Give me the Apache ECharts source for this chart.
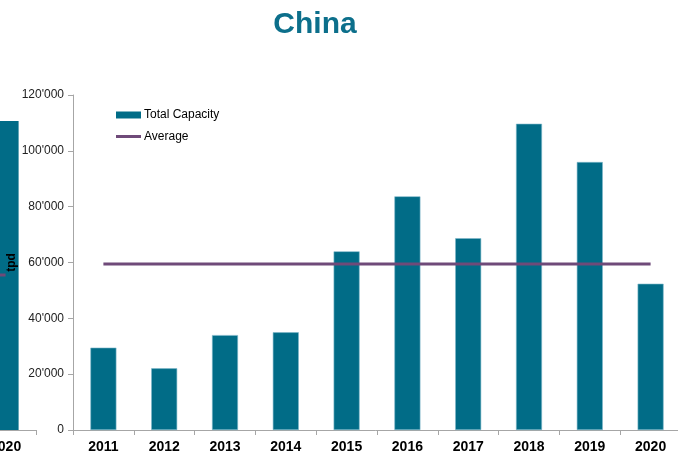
<!DOCTYPE html>
<html>
<head>
<meta charset="utf-8">
<style>html,body{margin:0;padding:0;background:#fff;}#c{width:678px;height:458px;}</style>
<script src="https://cdn.jsdelivr.net/npm/echarts@6/dist/echarts.min.js"></script>
</head>
<body>
<div id="c"></div>
<script>
var categories = ['2011','2012','2013','2014','2015','2016','2017','2018','2019','2020'];
var totalCapacity = [29500, 22100, 34000, 35000, 64000, 83700, 68700, 109700, 96000, 52400];
var average = [59500, 59500, 59500, 59500, 59500, 59500, 59500, 59500, 59500, 59500];
var yTicks = [0, 20000, 40000, 60000, 80000, 100000, 120000];
// remnant of neighbouring chart (cropped at left edge)
var prevCategories = ['2019','2020'];
var prevCapacity = ['-', 110700];
var prevAverage = [55500, 55500];

var barColor = '#016C87';
var lineColor = '#6F4A79';
var axisColor = '#A6A6A6';
var font = 'Liberation Sans, Arial, sans-serif';

function fmt(v){ return String(v).replace(/\B(?=(\d{3})+(?!\d))/g, "'"); }

var chart = echarts.init(document.getElementById('c'));
chart.setOption({
  animation: false,
  title: {
    text: 'China', left: 310, top: 5, textAlign: 'center',
    textStyle: {fontFamily: font, fontSize: 30, fontWeight: 'bold', color: '#0C6F8B'}
  },
  legend: {
    orient: 'vertical', left: 116, top: 109, padding: 0, itemWidth: 25, itemHeight: 7, itemGap: 9.5,
    textStyle: {fontFamily: font, fontSize: 12, color: '#000', padding: [0,0,0,-2]},
    data: [
      {name: 'Total Capacity', icon: 'rect', itemStyle: {color: barColor, borderWidth: 0}},
      {name: 'Average', icon: 'path://M0,0 M0,2 L25,2 L25,5 L0,5 Z M25,7', itemStyle: {color: lineColor, borderWidth: 0}}
    ]
  },
  grid: [
    {left: 73, top: 95, width: 608, height: 335, outerBoundsMode: 'none', containLabel: false},
    {left: 36 - 121.6, top: 95, width: 121.6, height: 335, outerBoundsMode: 'none', containLabel: false}
  ],
  xAxis: [
    {type: 'category', gridIndex: 0, data: categories,
     axisLine: {lineStyle: {color: axisColor, width: 1}},
     axisTick: {show: true, length: 5, lineStyle: {color: axisColor}},
     axisLabel: {fontFamily: font, fontSize: 14, fontWeight: 'bold', color: '#000', margin: 10}},
    {type: 'category', gridIndex: 1, data: prevCategories,
     axisLine: {lineStyle: {color: axisColor, width: 1}},
     axisTick: {show: true, length: 5, lineStyle: {color: axisColor}},
     axisLabel: {fontFamily: font, fontSize: 14, fontWeight: 'bold', color: '#000', margin: 10}}
  ],
  yAxis: [
    {type: 'value', gridIndex: 0, min: 0, max: 120000, interval: 20000, z: 10,
     name: 'tpd', nameLocation: 'middle', nameGap: 55, nameRotate: 90, nameMoveOverlap: false,
     nameTextStyle: {fontFamily: font, fontSize: 12, fontWeight: 'bold', color: '#000'},
     axisLine: {show: true, lineStyle: {color: axisColor}},
     axisTick: {show: true, length: 5, lineStyle: {color: axisColor}},
     splitLine: {show: false},
     axisLabel: {fontFamily: font, fontSize: 12, color: '#222', margin: 9,
       formatter: function(v){ return yTicks.indexOf(v) >= 0 ? fmt(v) : ''; }}},
    {type: 'value', gridIndex: 1, min: 0, max: 120000, interval: 20000, show: false}
  ],
  series: [
    {name: 'Total Capacity', type: 'bar', xAxisIndex: 0, yAxisIndex: 0, data: totalCapacity,
     barWidth: 26, itemStyle: {color: barColor, borderColor: '#7FB9CB', borderWidth: 0.6}},
    {name: 'Average', type: 'line', xAxisIndex: 0, yAxisIndex: 0, data: average,
     symbol: 'none', lineStyle: {color: lineColor, width: 3}, itemStyle: {color: lineColor}, z: 3},
    {name: 'prevCap', type: 'bar', xAxisIndex: 1, yAxisIndex: 1, data: prevCapacity,
     barWidth: 26, itemStyle: {color: barColor}, z: 1},
    {name: 'prevAvg', type: 'line', xAxisIndex: 1, yAxisIndex: 1, data: prevAverage,
     symbol: 'none', lineStyle: {color: lineColor, width: 3}, z: 1}
  ]
});
</script>
</body>
</html>
